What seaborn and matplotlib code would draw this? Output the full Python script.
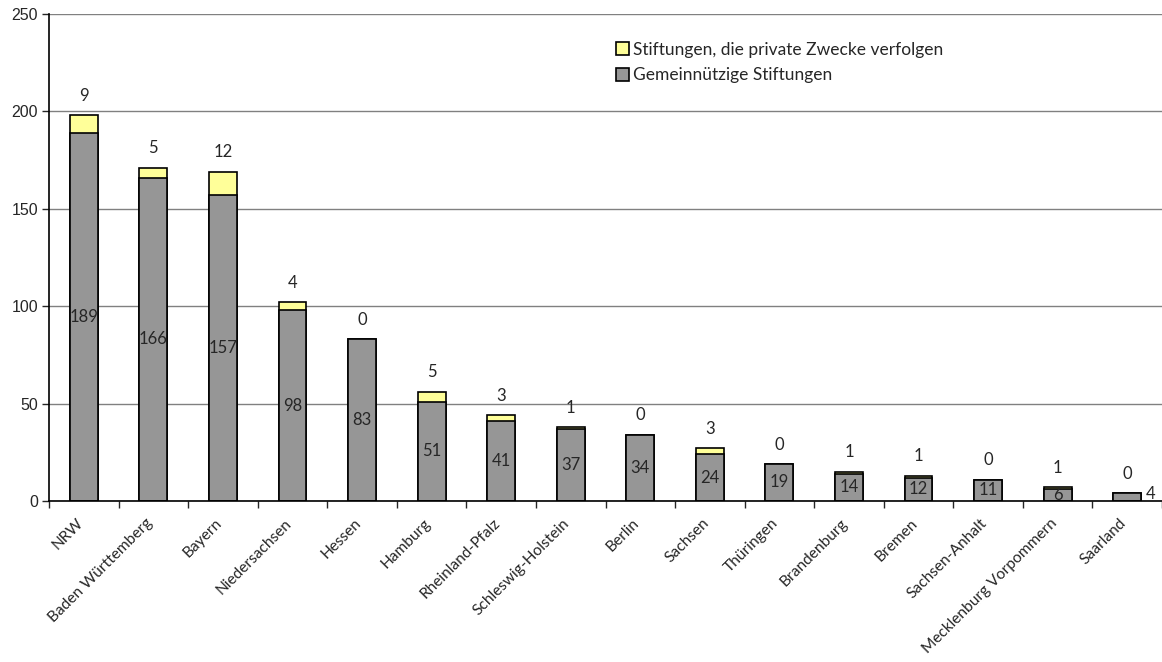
import matplotlib
matplotlib.use("Agg")
import matplotlib.pyplot as plt
import matplotlib.transforms as mtransforms
import seaborn as sns
import numpy as np

# data
laender = ["NRW", "Baden Württemberg", "Bayern", "Niedersachsen", "Hessen", "Hamburg",
           "Rheinland-Pfalz", "Schleswig-Holstein", "Berlin", "Sachsen", "Thüringen",
           "Brandenburg", "Bremen", "Sachsen-Anhalt", "Mecklenburg Vorpommern", "Saarland"]
gemeinnuetzig = [189, 166, 157, 98, 83, 51, 41, 37, 34, 24, 19, 14, 12, 11, 6, 4]
privat = [9, 5, 12, 4, 0, 5, 3, 1, 0, 3, 0, 1, 1, 0, 1, 0]

gray = "#969696"
yellow = "#FFFF99"
txt_font = ["Lato", "DejaVu Sans"]

sns.set_style("white")
plt.rcParams["font.family"] = ["Liberation Sans", "DejaVu Sans"]

gesamt = [g + p for g, p in zip(gemeinnuetzig, privat)]

fig = plt.figure(figsize=(11.62, 6.62), dpi=100)
ax = fig.add_axes([49 / 1162, 1 - 501 / 662, 1 - 49 / 1162, (501 - 14) / 662])

ax.set_axisbelow(True)
ax.yaxis.grid(True, color="#808080", linewidth=1)

sns.barplot(x=laender, y=gesamt, color=yellow, width=0.4, edgecolor="black",
            linewidth=1.2, saturation=1, ax=ax,
            label="Stiftungen, die private Zwecke verfolgen")
sns.barplot(x=laender, y=gemeinnuetzig, color=gray, width=0.4, edgecolor="black",
            linewidth=1.2, saturation=1, ax=ax, label="Gemeinnützige Stiftungen")

# value labels
for i, (g, p, t) in enumerate(zip(gemeinnuetzig, privat, gesamt)):
    if g >= 6:
        ax.text(i, g / 2, str(g), ha="center", va="center", fontsize=12, family=txt_font)
    else:
        ax.text(i + 0.33, g / 2 + 1.5, str(g), ha="center", va="center", fontsize=12,
                family=txt_font)
    ax.annotate(str(p), (i, t), xytext=(0, 14), textcoords="offset points",
                ha="center", va="center", fontsize=12, family=txt_font)

ax.set_xlim(-0.5, len(laender) - 0.5)
ax.set_ylim(0, 250)
ax.set_yticks(np.arange(0, 251, 50))
ax.tick_params(axis="y", labelsize=11.5, length=5, width=1, direction="out", left=True, pad=3)

ax.set_xticks(np.arange(len(laender)))
ax.set_xticks(np.arange(-0.5, len(laender), 1), minor=True)
ax.tick_params(axis="x", which="major", length=0, pad=11)
ax.tick_params(axis="x", which="minor", length=5, width=1, direction="out", bottom=True)
ax.set_xticklabels(laender, rotation=45, ha="right", rotation_mode="anchor",
                   fontsize=11.2, family=txt_font)
shift = mtransforms.ScaledTranslation(-8 / 100, 0, fig.dpi_scale_trans)
for lab in ax.get_xticklabels():
    lab.set_transform(lab.get_transform() + shift)
ax.set_xlabel("")
ax.set_ylabel("")

for side in ["top", "right"]:
    ax.spines[side].set_visible(False)
for side in ["left", "bottom"]:
    ax.spines[side].set_color("black")
    ax.spines[side].set_linewidth(1.2)

leg = ax.legend(loc="upper left", bbox_to_anchor=(0.495, 0.975), frameon=False,
                prop={"family": txt_font, "size": 12.5}, handlelength=0.75,
                handleheight=0.75, handletextpad=0.25, labelspacing=0.55)

fig.savefig("out.png", dpi=100)
